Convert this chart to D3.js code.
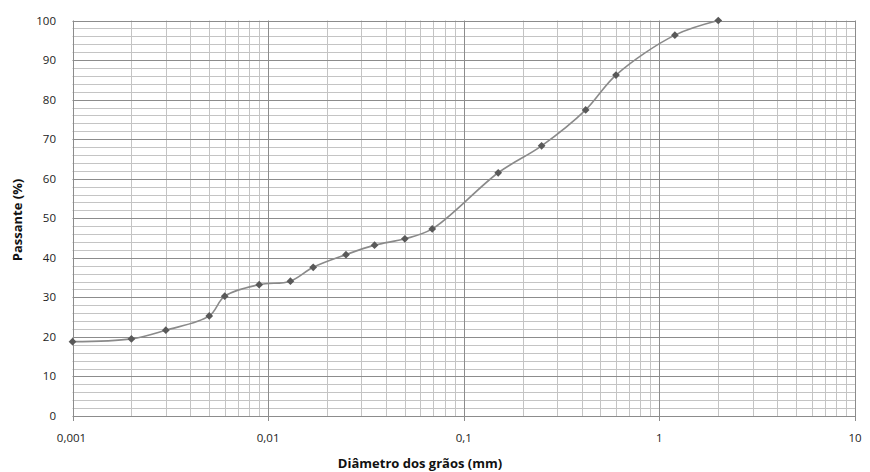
<!DOCTYPE html>
<html><head><meta charset="utf-8">
<script src="https://cdn.jsdelivr.net/npm/d3@7"></script>
<style>body{margin:0;background:#fff}svg{display:block}text{font-family:"Open Sans","Liberation Sans",sans-serif}</style>
</head><body>
<svg id="c" width="870" height="472"></svg>
<script>
const diameters = [0.001,0.002,0.003,0.005,0.006,0.009,0.013,0.017,0.025,0.035,0.05,0.069,0.15,0.25,0.42,0.6,1.2,2.0];
const passing   = [18.8,19.5,21.7,25.3,30.3,33.2,34.1,37.6,40.8,43.2,44.8,47.3,61.5,68.3,77.4,86.2,96.3,100];
const xTicks = [0.001,0.01,0.1,1,10];
const xTickLabels = ["0,001","0,01","0,1","1","10"];
const yTicks = [0,10,20,30,40,50,60,70,80,90,100];

const svg = d3.select("#c");
const L=72.5, R=855, T=20.5, B=416;
const x = d3.scaleLog().domain([0.001,10]).range([L,R]);
const y = d3.scaleLinear().domain([0,100]).range([B,T]);

const minorX=[];
for(let e=-3;e<1;e++) for(let m=2;m<=9;m++) minorX.push(m*Math.pow(10,e));
const minorY=d3.range(2,100,2).filter(v=>v%10!==0);
const g=svg.append("g");
g.selectAll(".mx").data(minorX).join("line").attr("x1",d=>Math.round(x(d))+0.5).attr("x2",d=>Math.round(x(d))+0.5).attr("y1",T).attr("y2",B).attr("stroke","#c4c4c4").attr("stroke-width",1);
g.selectAll(".my").data(minorY).join("line").attr("y1",d=>Math.round(y(d))+0.5).attr("y2",d=>Math.round(y(d))+0.5).attr("x1",L).attr("x2",R).attr("stroke","#c4c4c4").attr("stroke-width",1);
g.selectAll(".My").data(yTicks).join("line").attr("y1",d=>Math.round(y(d))+0.5).attr("y2",d=>Math.round(y(d))+0.5).attr("x1",L).attr("x2",R).attr("stroke","#8c8c8c").attr("stroke-width",1);
g.selectAll(".Mx").data(xTicks).join("line").attr("x1",d=>Math.round(x(d))+0.5).attr("x2",d=>Math.round(x(d))+0.5).attr("y1",T).attr("y2",B+5).attr("stroke","#8c8c8c").attr("stroke-width",1);

svg.append("g").selectAll("text").data(yTicks).join("text")
  .attr("x",56).attr("y",d=>y(d)+4).attr("text-anchor","end").attr("font-size",11.5).attr("fill","#222").text(d=>d);
svg.append("g").selectAll("text").data(xTicks).join("text")
  .attr("x",(d,i)=>x(d)+(i===0?-1:0)).attr("y",442).attr("text-anchor","middle").attr("font-size",11.5).attr("fill","#222").text((d,i)=>xTickLabels[i]);

svg.append("text").attr("x",420).attr("y",468).attr("text-anchor","middle").attr("font-size",13).attr("font-weight","bold").attr("fill","#111").text("Diâmetro dos grãos (mm)");
svg.append("text").attr("transform","translate(22,220) rotate(-90)").attr("text-anchor","middle").attr("font-size",13).attr("font-weight","bold").attr("fill","#111").text("Passante (%)");

const pts=diameters.map((d,i)=>[d,passing[i]]);
const line=d3.line().x(d=>x(d[0])).y(d=>y(d[1])).curve(d3.curveCatmullRom.alpha(0.5));
svg.append("path").attr("d",line(pts)).attr("fill","none").attr("stroke","#8a8a8a").attr("stroke-width",1.6);
const sym=d3.symbol().type(d3.symbolSquare).size(30);
svg.append("g").selectAll("path").data(pts).join("path")
  .attr("transform",d=>`translate(${x(d[0])},${y(d[1])}) rotate(45)`).attr("d",sym).attr("fill","#595959");
</script>
</body></html>
